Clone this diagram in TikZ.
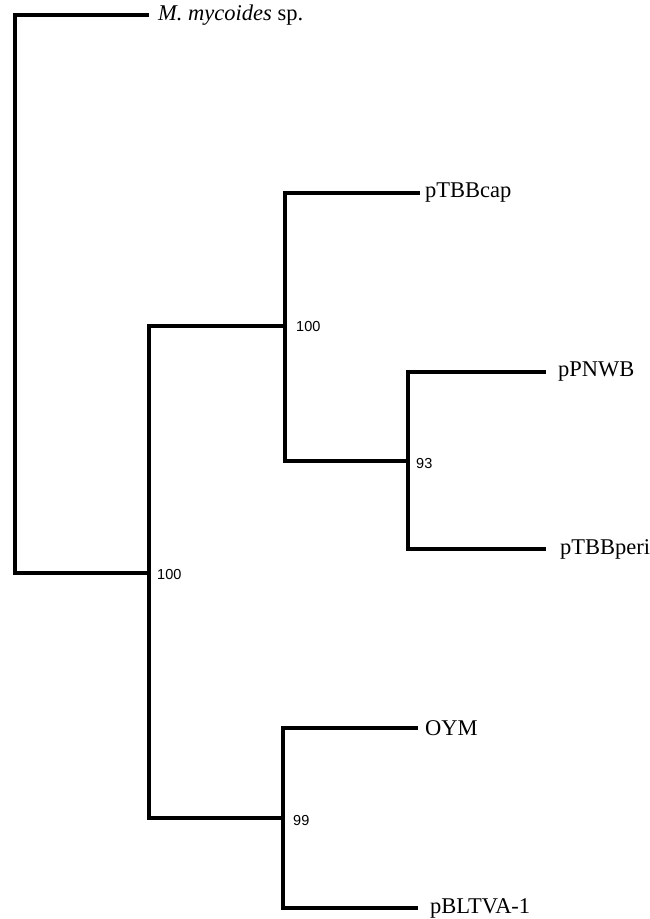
\documentclass[tikz,border=0pt]{standalone}
\usepackage{fontspec}
\setmainfont{Liberation Serif}
\newfontfamily\numfont{Liberation Sans}
\begin{document}
\begin{tikzpicture}[x=1pt,y=-1pt,
  br/.style={line width=3.2pt,line cap=rect},
  taxon/.style={anchor=west,inner sep=0pt,font=\fontsize{22.5}{22.5}\selectfont},
  boot/.style={anchor=west,inner sep=0pt,font=\numfont\fontsize{14.5}{14.5}\selectfont}]
\useasboundingbox (0,0) rectangle (650,919);
% internal nodes
\coordinate (root) at (15,573);
\coordinate (n1) at (149,573);
\coordinate (n2) at (285,326);
\coordinate (n3) at (408,461);
\coordinate (n4) at (283,818);
% tips
\coordinate (tm) at (147,15);
\coordinate (tcap) at (418,193);
\coordinate (tpn) at (544,372);
\coordinate (tperi) at (544,549);
\coordinate (toym) at (416,728);
\coordinate (tbl) at (416,908);
% branches
\draw[br] (tm) -| (root) -- (n1);
\draw[br] (n2) -| (n1) |- (n4);
\draw[br] (tcap) -| (n2) |- (n3);
\draw[br] (tpn) -| (n3) |- (tperi);
\draw[br] (toym) -| (n4) |- (tbl);
% labels
\node[taxon] (lm) at (158,15) {\textit{M. mycoides} sp.};
\node[taxon] (lcap) at (425,193) {pTBBcap};
\node[taxon] (lpn) at (558,372) {pPNWB};
\node[taxon] (lperi) at (560,549) {pTBBperi};
\node[taxon] (loym) at (425,728) {OYM};
\node[taxon] (lbl) at (430,908) {pBLTVA-1};
\node[boot] (b1) at (157,574) {100};
\node[boot] (b2) at (296,327) {100};
\node[boot] (b3) at (416,464) {93};
\node[boot] (b4) at (293,820) {99};
\end{tikzpicture}
\end{document}
